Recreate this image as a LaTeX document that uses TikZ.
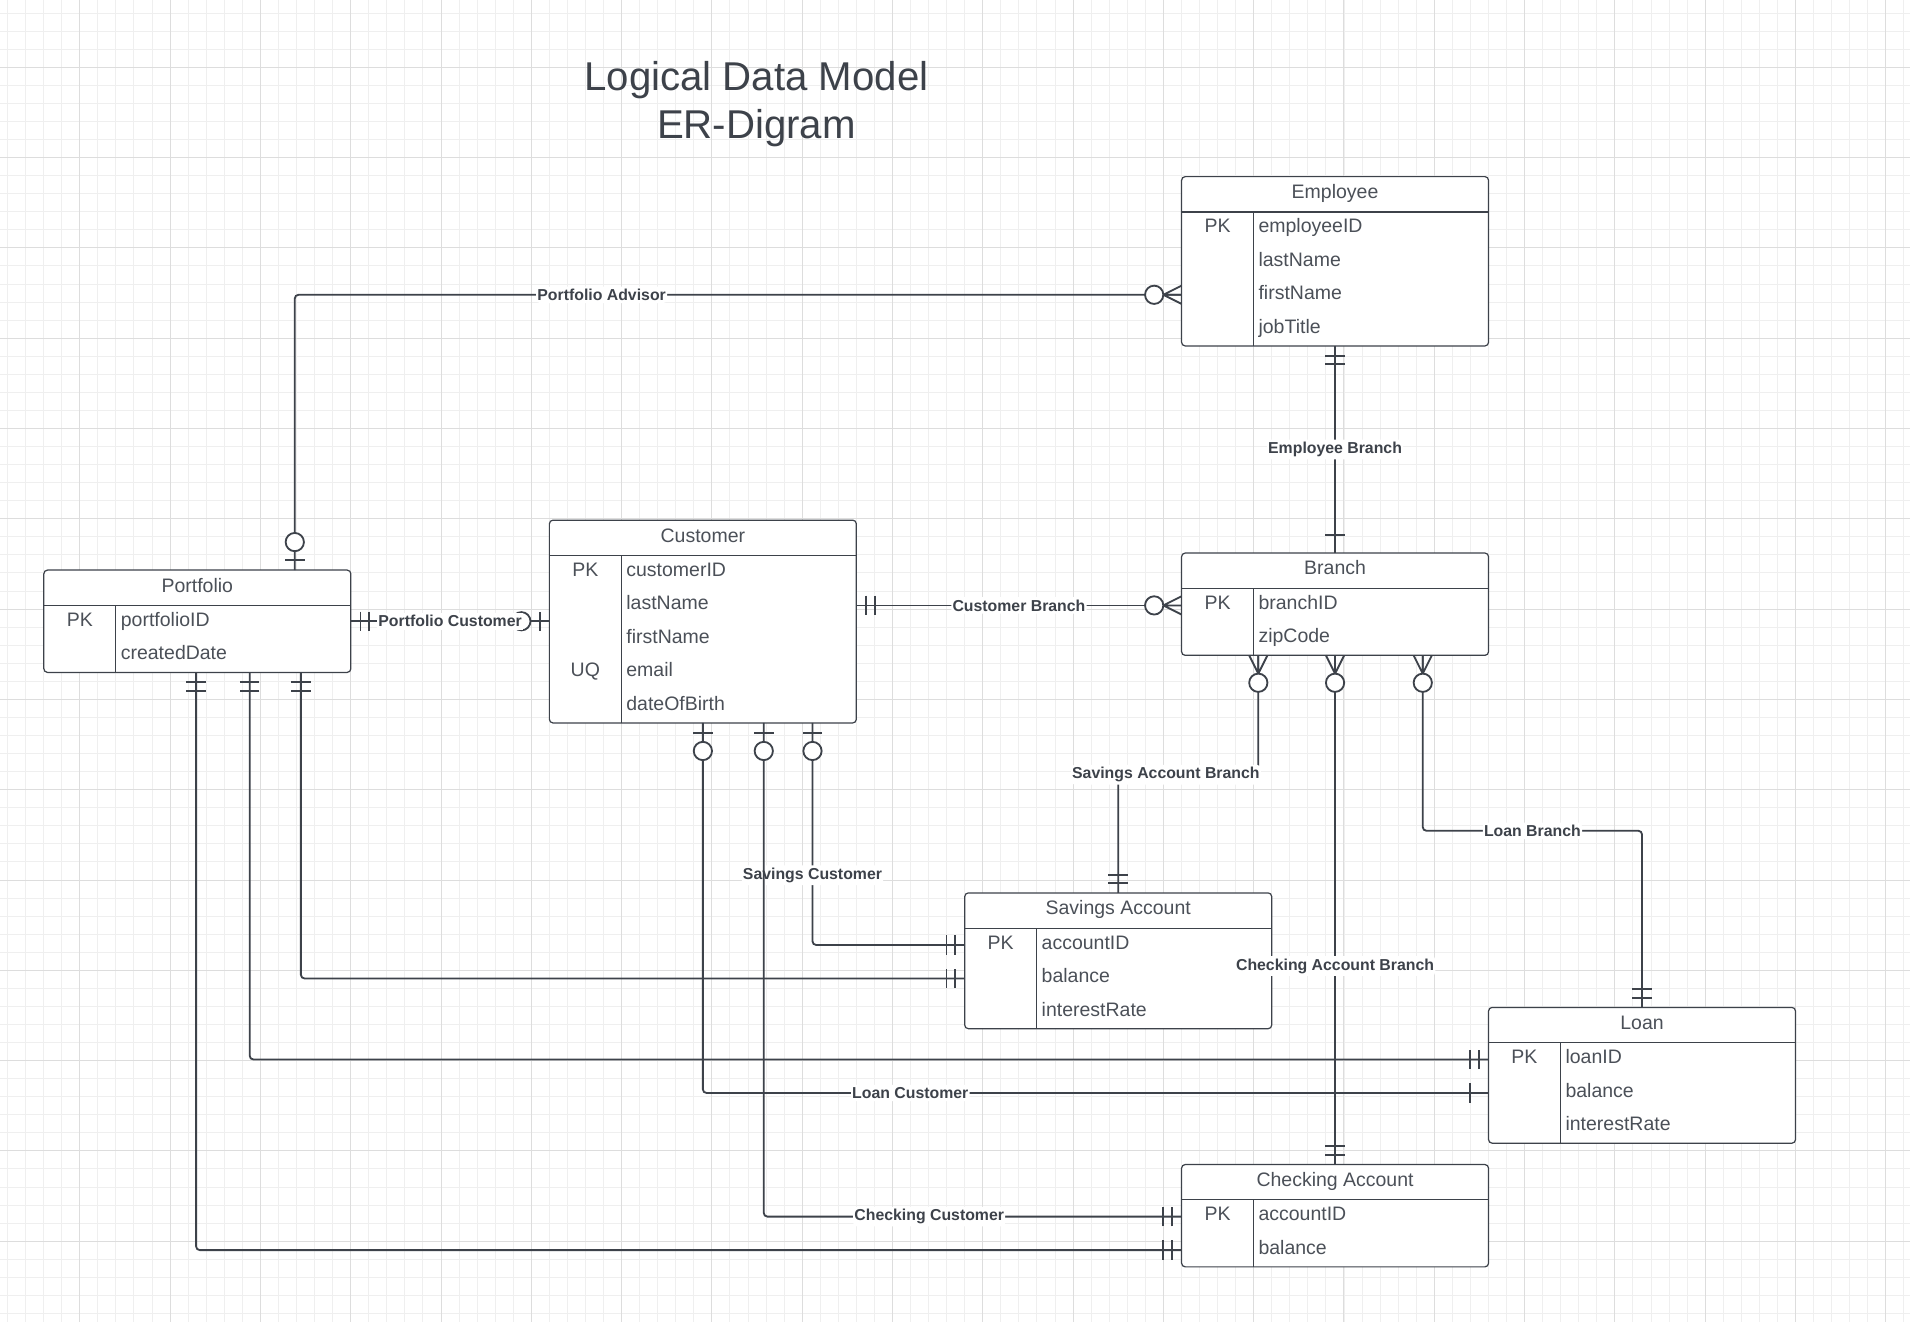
\documentclass[tikz,border=0pt]{standalone}
\usepackage{fontspec}
\setmainfont{Liberation Sans}
\usepackage{tikz}
\usetikzlibrary{positioning}

\definecolor{erdark}{HTML}{3D424A}
\definecolor{ertext}{HTML}{4B5058}
\definecolor{gridlight}{HTML}{EFEFEF}
\definecolor{griddark}{HTML}{DDDDDD}

% one entity box: name, top left corner, title, number of rows, key/attribute list
\newcommand{\erentity}[5]{%
  \node[entbox, anchor=north west, minimum height={29+27.5*#4}] (#1) at (#2) {};
  \node[enttext] (#1-title) at ([yshift=-14.5]#1.north) {#3};
  \draw[entrule] ([yshift=-29]#1.north west) -- ([yshift=-29]#1.north east);
  \draw[entrule] ([xshift=59,yshift=-29]#1.north west) -- ([xshift=59]#1.south west);
  \foreach \fkey/\fattr [count=\i] in {#5} {
    \coordinate (#1-\i) at ([yshift={-15.25-27.5*\i}]#1.north west);
    \node[enttext] (#1-key\i) at ([xshift=29.5]#1-\i) {\fkey};
    \node[enttext, anchor=west] (#1-attr\i) at ([xshift=63]#1-\i) {\fattr};
  }%
}

\begin{document}
\begin{tikzpicture}[
    x=1pt, y=-1pt,
    minorline/.style={draw=gridlight, line width=0.8pt},
    majorline/.style={draw=griddark, line width=0.8pt},
    entbox/.style={draw=erdark, line width=1pt, fill=white, rounded corners=3pt,
      minimum width=252, inner sep=0pt, outer sep=0pt},
    entrule/.style={draw=erdark, line width=0.9pt},
    enttext/.style={font=\fontsize{16}{19}\selectfont, text=ertext, inner sep=0pt,
      text height=11.5pt, text depth=4.5pt},
    rel/.style={draw=erdark, line width=1.5pt, rounded corners=3pt},
    lbl/.style={font=\bfseries\fontsize{13}{15}\selectfont, text=erdark, fill=white,
      inner xsep=1pt, inner ysep=2pt},
    mone/.pic={\draw[rel, sharp corners] (8,-8) -- (8,8) (15,-8) -- (15,8);},
    one/.pic={\draw[rel, sharp corners] (15,-8) -- (15,8);},
    zone/.pic={\draw[rel, sharp corners] (8,-8) -- (8,8);
      \draw[rel, fill=white] (23,0) circle[radius=7.5pt];},
    zmany/.pic={\draw[rel, sharp corners] (0,-7.5) -- (15,0) -- (0,7.5) (0,0) -- (15,0);
      \draw[rel, fill=white] (22.5,0) circle[radius=7.5pt];}]

    \useasboundingbox (0,0) rectangle (1568,1085);
    \fill[white] (0,0) rectangle (1568,1085);

    % background grid
    \foreach \gx in {0,...,105} \draw[minorline] ({6.2+14.826*\gx},0) -- ++(0,1085);
    \foreach \gy in {0,...,72} \draw[minorline] (0,{10.77+14.826*\gy}) -- ++(1568,0);
    \foreach \gx in {0,...,20} \draw[majorline] ({65.5+74.13*\gx},0) -- ++(0,1085);
    \foreach \gy in {0,...,13} \draw[majorline] (0,{55.25+74.13*\gy}) -- ++(1568,0);

    \node[font=\fontsize{33}{39}\selectfont, text=erdark, align=center] (title) at (621,85.5)
        {Logical Data Model\\ER-Digram};

    % entities
    \erentity{empl}{970,145}{Employee}{4}{PK/employeeID, /lastName, /firstName, /jobTitle}
    \erentity{cust}{451,427}{Customer}{5}{PK/customerID, /lastName, /firstName, UQ/email, /dateOfBirth}
    \erentity{port}{36,468}{Portfolio}{2}{PK/portfolioID, /createdDate}
    \erentity{branch}{970,454}{Branch}{2}{PK/branchID, /zipCode}
    \erentity{sav}{792,733}{Savings Account}{3}{PK/accountID, /balance, /interestRate}
    \erentity{loan}{1222,827}{Loan}{3}{PK/loanID, /balance, /interestRate}
    \erentity{chk}{970,956}{Checking Account}{2}{PK/accountID, /balance}

    % attachment points
    \coordinate (portN) at ([xshift=206]port.north west);
    \coordinate (emplW) at ([yshift=-97]empl.north west);
    \coordinate (custE) at ([yshift=-70]cust.north east);
    \coordinate (custS1) at ([xshift=126]cust.south west);
    \coordinate (custS2) at ([xshift=176]cust.south west);
    \coordinate (custS3) at ([xshift=216]cust.south west);
    \coordinate (portS1) at ([xshift=125]port.south west);
    \coordinate (portS2) at ([xshift=169]port.south west);
    \coordinate (portS3) at ([xshift=211]port.south west);
    \coordinate (branchS1) at ([xshift=63]branch.south west);
    \coordinate (branchS3) at ([xshift=198]branch.south west);

    % relationships
    \draw[rel] (portN) |- node[lbl, pos=.673] (lPA) {Portfolio Advisor} (emplW);
    \draw[rel] (port.east) -- (port.east -| cust.west);
    \draw[rel] (custE) -- node[lbl] (lCB) {Customer Branch} (custE -| branch.west);
    \draw[rel] (empl.south) -- node[lbl] (lEB) {Employee Branch} (branch.north);
    \draw[rel] (branchS1) -- ++(0,98) -| node[lbl, pos=.33] (lSAB) {Savings Account Branch} (sav.north);
    \draw[rel] (branch.south) -- node[lbl, pos=.61] (lCAB) {Checking Account Branch} (chk.north);
    \draw[rel] (branchS3) -- ++(0,144) -| node[lbl, pos=.25] (lLB) {Loan Branch} (loan.north);
    \draw[rel] (custS3) |- node[lbl, pos=.343] (lSC) {Savings Customer} (sav-1);
    \draw[rel] (portS3) |- (sav-2);
    \draw[rel] (portS2) |- (loan-1);
    \draw[rel] (custS1) |- node[lbl, pos=.632] (lLC) {Loan Customer} (loan-2);
    \draw[rel] (custS2) |- node[lbl, pos=.698] (lCC) {Checking Customer} (chk-1);
    \draw[rel] (portS1) |- (chk-2);

    % cardinality ends
    \pic[rotate=90] at (portN) {zone};
    \pic[rotate=180] at (emplW) {zmany};
    \pic at (port.east) {mone};
    \pic[rotate=180] at (port.east -| cust.west) {zone};
    \pic at (custE) {mone};
    \pic[rotate=180] at (custE -| branch.west) {zmany};
    \pic[rotate=-90] at (empl.south) {mone};
    \pic[rotate=90] at (branch.north) {one};
    \foreach \b in {branchS1, branch.south, branchS3} \pic[rotate=-90] at (\b) {zmany};
    \foreach \e in {sav.north, chk.north, loan.north} \pic[rotate=90] at (\e) {mone};
    \foreach \c in {custS1, custS2, custS3} \pic[rotate=-90] at (\c) {zone};
    \foreach \p in {portS1, portS2, portS3} \pic[rotate=-90] at (\p) {mone};
    \foreach \e in {sav-1, sav-2, loan-1, chk-1, chk-2} \pic[rotate=180] at (\e) {mone};
    \pic[rotate=180] at (loan-2) {one};

    % label drawn over its circle
    \path (port.east) -- node[lbl] (lPC) {Portfolio Customer} (port.east -| cust.west);

\end{tikzpicture}
\end{document}
